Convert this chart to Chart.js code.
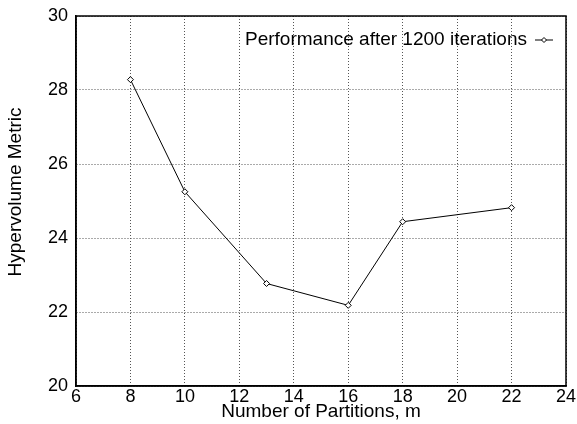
<!DOCTYPE html>
<html>
<head>
<meta charset="utf-8">
<script src="https://cdn.jsdelivr.net/npm/chart.js@4.4.0/dist/chart.umd.min.js"></script>
<style>
  html, body { margin: 0; padding: 0; background: #fff; }
  #wrap { width: 577px; height: 424px; }
</style>
</head>
<body>
<div id="wrap"><canvas id="myChart" width="577" height="424"></canvas></div>
<script>
// values
const partitions = [8, 10, 13, 16, 18, 22];
const hypervolume = [28.28, 25.25, 22.77, 22.18, 24.44, 24.82];
const xTicks = [6, 8, 10, 12, 14, 16, 18, 20, 22, 24];
const yTicks = [20, 22, 24, 26, 28, 30];
const seriesLabel = 'Performance after 1200 iterations';
const xTitle = 'Number of Partitions, m';
const yTitle = 'Hypervolume Metric';

const FONT = '"Liberation Sans", Arial, Helvetica, sans-serif';

// gnuplot-like frame, axis titles and a legend with the sample on the right
const framePlugin = {
    id: 'frame',
    afterDraw(chart) {
        const c = chart.ctx;
        const a = chart.chartArea;
        c.save();
        c.strokeStyle = '#000';
        c.lineWidth = 1.5;
        c.strokeRect(a.left, a.top, a.right - a.left, a.bottom - a.top);

        c.font = '19px ' + FONT;
        c.fillStyle = '#000';
        c.textBaseline = 'middle';

        // axis titles
        c.textAlign = 'center';
        c.fillText(xTitle, (a.left + a.right) / 2, 412);
        c.save();
        c.translate(16, 192);
        c.rotate(-Math.PI / 2);
        c.fillText(yTitle, 0, 0);
        c.restore();

        // legend
        c.textAlign = 'right';
        const ly = 40;
        c.fillText(seriesLabel, 527, ly);
        c.lineWidth = 1;
        c.beginPath();
        c.moveTo(535, ly);
        c.lineTo(553, ly);
        c.stroke();
        c.beginPath();
        c.moveTo(544, ly - 2.5);
        c.lineTo(546.5, ly);
        c.lineTo(544, ly + 2.5);
        c.lineTo(541.5, ly);
        c.closePath();
        c.fillStyle = '#fff';
        c.fill();
        c.stroke();
        c.restore();
    }
};

const ctx = document.getElementById('myChart').getContext('2d');

new Chart(ctx, {
    type: 'line',
    data: {
        datasets: [{
            label: seriesLabel,
            data: partitions.map((x, i) => ({ x: x, y: hypervolume[i] })),
            borderColor: '#000',
            borderWidth: 1,
            backgroundColor: '#fff',
            pointStyle: 'rectRot',
            pointRadius: 3,
            pointBorderWidth: 1,
            pointBorderColor: '#000',
            pointBackgroundColor: '#fff',
            tension: 0
        }]
    },
    options: {
        responsive: false,
        animation: false,
        layout: { padding: { top: 16, right: 11, left: 0, bottom: 0 } },
        plugins: {
            legend: { display: false },
            tooltip: { enabled: false }
        },
        scales: {
            x: {
                type: 'linear',
                min: 6,
                max: 24,
                afterBuildTicks: (axis) => { axis.ticks = xTicks.map(v => ({ value: v })); },
                afterFit: (axis) => {
                    axis.height = 38;
                    axis.paddingLeft = 0;
                    axis.paddingRight = 0;
                },
                grid: {
                    color: '#555',
                    lineWidth: 1,
                    drawTicks: false
                },
                border: { display: true, color: '#000', width: 1.5, dash: [1, 2] },
                ticks: {
                    color: '#000',
                    padding: 0,
                    maxRotation: 0,
                    font: { family: FONT, size: 18 }
                }
            },
            y: {
                type: 'linear',
                min: 20,
                max: 30,
                afterBuildTicks: (axis) => { axis.ticks = yTicks.map(v => ({ value: v })); },
                afterFit: (axis) => {
                    axis.width = 76;
                    axis.paddingTop = 0;
                    axis.paddingBottom = 0;
                },
                grid: {
                    color: '#555',
                    lineWidth: 1,
                    drawTicks: false
                },
                border: { display: true, color: '#000', width: 1.5, dash: [1, 2] },
                ticks: {
                    color: '#000',
                    padding: 8,
                    font: { family: FONT, size: 18 }
                }
            }
        }
    },
    plugins: [framePlugin]
});
</script>
</body>
</html>
